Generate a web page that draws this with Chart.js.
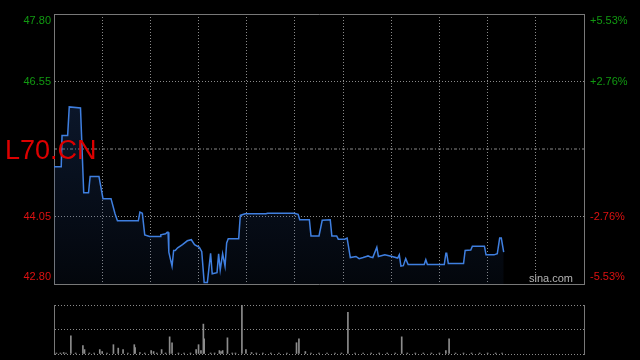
<!DOCTYPE html>
<html>
<head>
<meta charset="utf-8">
<script src="https://cdn.jsdelivr.net/npm/chart.js@4.4.0/dist/chart.umd.min.js"></script>
<style>
  html, body { margin: 0; padding: 0; background: #000; }
  #wrap { position: relative; width: 640px; height: 360px; overflow: hidden; background: #000; }
  #priceChart { position: absolute; left: 0; top: 0; width: 640px; height: 300px; }
  #volChart { position: absolute; left: 0; top: 290px; width: 640px; height: 70px; }
</style>
</head>
<body>
<div id="wrap">
  <canvas id="priceChart" width="640" height="300"></canvas>
  <canvas id="volChart" width="640" height="70"></canvas>
</div>
<script>
// minutes since open (11 one-hour columns) and last price
const minutes = [0,9,10,17,19,33,37,43,45,56,61,71,76,79,105,107,110,113,119,132,
  133,139,141,142,143,147,149,151,154,160,166,171,175,181,184,187,191,195,197,203,
  205,207,210,213,215,217,230,232,238,264,266,299,304,306,318,320,330,334,344,346,
  352,354,362,365,369,376,380,385,389,391,394,397,402,404,412,421,428,430,432,435,
  438,441,461,463,465,486,488,489,491,510,512,519,521,536,538,548,552,555,557,560];
const prices = [44.97,44.97,45.55,45.55,46.08,46.06,44.49,44.49,44.79,44.79,
  44.38,44.38,44.10,43.97,43.97,44.13,44.11,43.71,43.68,43.68,
  43.71,43.73,43.76,43.76,43.39,43.13,43.42,43.42,43.47,43.53,
  43.60,43.62,43.53,43.48,43.40,42.83,42.83,43.37,42.99,43.01,
  43.36,43.06,43.36,43.13,43.56,43.64,43.64,44.07,44.10,44.10,
  44.11,44.11,44.09,43.99,43.99,43.69,43.69,43.98,43.99,43.69,
  43.69,43.63,43.63,43.65,43.29,43.31,43.27,43.29,43.31,43.32,
  43.30,43.29,43.48,43.31,43.34,43.31,43.28,43.34,43.13,43.14,
  43.27,43.16,43.16,43.25,43.16,43.16,43.37,43.37,43.18,43.18,
  43.42,43.43,43.50,43.50,43.34,43.34,43.36,43.65,43.65,43.39];

// volume, relative to the biggest minute (= 100)
const volMinutes = [3,8,12,15,21,27,36,38,44,50,57,60,66,74,80,86,92,100,101,107,
  113,121,124,128,134,139,144,147,155,162,170,177,180,183,186,187,195,200,206,208,
  210,216,222,226,234,239,246,252,260,270,280,290,302,305,313,320,330,340,350,358,
  366,375,385,395,405,415,425,433,440,450,460,470,480,488,492,500,510,520,530,540,550,558];
const volValues = [2,2,3,2,37,2,17,9,2,2,9,5,2,19,12,9,2,19,13,3,
  2,7,5,2,9,2,35,23,2,2,2,9,19,7,61,31,2,2,7,5,
  7,33,2,2,100,9,3,2,2,2,2,2,23,31,5,2,2,2,2,2,
  85,2,2,2,2,2,2,35,2,2,2,2,2,7,31,2,2,2,2,2,2,2];

const prevClose = 45.30;
const priceTicks = [42.80, 44.05, 45.30, 46.55, 47.80];
const priceLabels = ['42.80', '44.05', '', '46.55', '47.80'];
const pctLabels = ['-5.53%', '-2.76%', '', '+2.76%', '+5.53%'];
const symbolText = 'L70.CN';
const brandText = 'sina.com';

const dayLength = 660;
const GREEN = '#119911';
const RED = '#dd1111';
const GRID = '#8a8a8a';
const BORDER = '#787878';
const FONT = 'Arial, "Liberation Sans", sans-serif';
const CLEAR = 'rgba(0,0,0,0)';

function hourTicks(scale) {
  const t = [];
  for (let m = 0; m <= dayLength; m += 60) t.push({ value: m });
  scale.ticks = t;
}
function priceTickList(scale) {
  scale.ticks = priceTicks.map(v => ({ value: v }));
}
// push top label down, bottom label up, like the original
function edgeLabel(label, index) {
  if (index === 0) return [label, ''];
  if (index === priceTicks.length - 1) return ['', label];
  return label;
}
function tickColor(ctx) {
  return ctx.tick.value > prevClose ? GREEN : RED;
}

const overlayText = {
  id: 'overlayText',
  afterDatasetsDraw(chart) {
    const ctx = chart.ctx;
    const y = chart.scales.y.getPixelForValue(prevClose);
    ctx.save();
    ctx.font = '27px ' + FONT;
    ctx.fillStyle = '#dd0000';
    ctx.textAlign = 'left';
    ctx.textBaseline = 'alphabetic';
    ctx.fillText(symbolText, 5, y + 9.5);
    ctx.font = '11px ' + FONT;
    ctx.fillStyle = '#b4b4b4';
    ctx.textAlign = 'right';
    ctx.fillText(brandText, chart.chartArea.right - 11, chart.chartArea.bottom - 2);
    ctx.restore();
  }
};

new Chart(document.getElementById('priceChart'), {
  type: 'line',
  data: {
    datasets: [{
      data: minutes.map((m, i) => ({ x: m, y: prices[i] })),
      borderColor: '#3f7fe0',
      borderWidth: 1.5,
      pointRadius: 0,
      tension: 0,
      fill: 'start',
      backgroundColor: (ctx) => {
        const area = ctx.chart.chartArea;
        if (!area) return CLEAR;
        const g = ctx.chart.ctx.createLinearGradient(0, area.top, 0, area.bottom);
        g.addColorStop(0, 'rgba(40,80,150,0.38)');
        g.addColorStop(1, 'rgba(40,80,150,0.08)');
        return g;
      }
    }, {
      data: [{ x: 0, y: prevClose }, { x: dayLength, y: prevClose }],
      borderColor: GRID,
      borderWidth: 1,
      borderDash: [3, 2, 1, 2],
      pointRadius: 0,
      fill: false
    }]
  },
  options: {
    responsive: false,
    animation: false,
    events: [],
    layout: { padding: { top: 14, bottom: 16, left: 0, right: 0 } },
    plugins: { legend: { display: false }, tooltip: { enabled: false } },
    scales: {
      x: {
        type: 'linear', min: 0, max: dayLength,
        afterBuildTicks: hourTicks,
        afterFit: (s) => { s.height = 0; },
        ticks: { display: false },
        grid: {
          drawTicks: false,
          color: (ctx) => (ctx.tick.value === 0 || ctx.tick.value === dayLength) ? CLEAR : GRID
        },
        border: { display: true, color: BORDER, dash: [1, 2] }
      },
      xTop: {
        type: 'linear', position: 'top', min: 0, max: dayLength,
        afterFit: (s) => { s.height = 0; },
        ticks: { display: false },
        grid: { display: false },
        border: { display: true, color: BORDER }
      },
      y: {
        type: 'linear', position: 'left', min: 42.8, max: 47.8,
        afterBuildTicks: priceTickList,
        afterFit: (s) => { s.width = 54; },
        ticks: {
          autoSkip: false, padding: 0,
          font: { family: FONT, size: 11 },
          color: tickColor,
          callback: (v, i) => edgeLabel(priceLabels[i], i)
        },
        grid: {
          drawTicks: true, tickLength: 3, tickColor: CLEAR,
          color: (ctx) => (ctx.index === 1 || ctx.index === 3) ? GRID : CLEAR
        },
        border: { display: true, color: BORDER, dash: [1, 2] }
      },
      y2: {
        type: 'linear', position: 'right', min: 42.8, max: 47.8,
        afterBuildTicks: priceTickList,
        afterFit: (s) => { s.width = 56; },
        ticks: {
          autoSkip: false, padding: 0,
          font: { family: FONT, size: 11 },
          color: tickColor,
          callback: (v, i) => edgeLabel(pctLabels[i], i)
        },
        grid: { drawOnChartArea: false, drawTicks: true, tickLength: 6, tickColor: CLEAR },
        border: { display: true, color: BORDER }
      }
    }
  },
  plugins: [overlayText]
});

new Chart(document.getElementById('volChart'), {
  type: 'bar',
  data: {
    datasets: [{
      data: volMinutes.map((m, i) => ({ x: m, y: volValues[i] })),
      backgroundColor: '#8c8c8c',
      borderWidth: 0,
      barThickness: 1
    }]
  },
  options: {
    responsive: false,
    animation: false,
    events: [],
    layout: { padding: { top: 15, bottom: 6, left: 0, right: 0 } },
    plugins: { legend: { display: false }, tooltip: { enabled: false } },
    scales: {
      x: { type: 'linear', min: 0, max: dayLength, offset: false, display: false },
      y: {
        min: 0, max: 100,
        afterFit: (s) => { s.width = 54; },
        ticks: { display: false, stepSize: 50 },
        grid: { drawTicks: false, color: GRID },
        border: { display: true, color: BORDER, dash: [1, 2] }
      },
      y2: {
        position: 'right', min: 0, max: 100,
        afterFit: (s) => { s.width = 56; },
        ticks: { display: false },
        grid: { display: false },
        border: { display: true, color: BORDER }
      }
    }
  }
});
</script>
</body>
</html>
